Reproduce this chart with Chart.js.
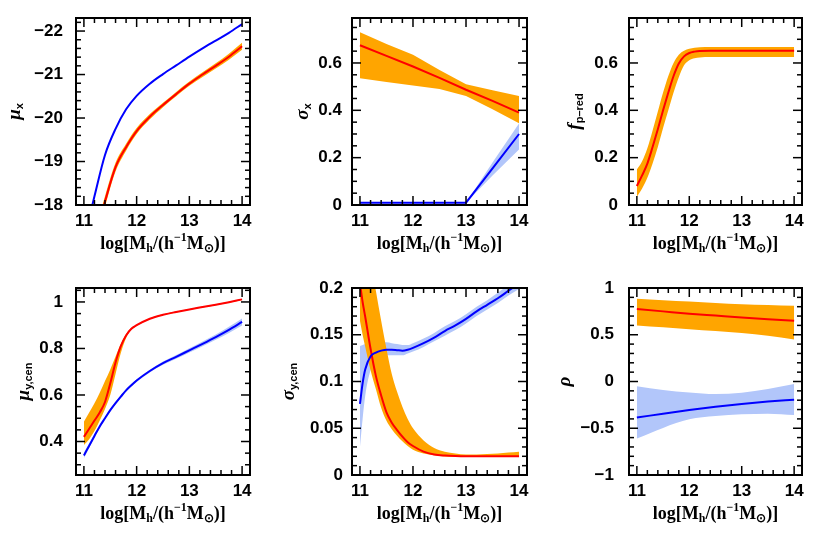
<!DOCTYPE html>
<html>
<head>
<meta charset="utf-8">
<script src="https://cdn.jsdelivr.net/npm/chart.js@4.4.1/dist/chart.umd.min.js"></script>
<style>
html, body { margin: 0; padding: 0; background: #fff; }
#wrap { position: relative; width: 830px; height: 544px; }
.panel { position: absolute; }
</style>
</head>
<body>
<div id="wrap"></div>
<script>
// x axis: log halo mass
const massTicks = [11, 12, 13, 14];

// panel 1: mu_x
const muxMass = [11, 11.2, 11.4, 11.6, 11.8, 12, 12.25, 12.5, 12.75, 13, 13.25, 13.5, 13.75, 14];
const muxBlue = [-17.2, -18.2, -19.15, -19.75, -20.2, -20.51, -20.79, -21.01, -21.21, -21.41, -21.6, -21.78, -21.96, -22.16];
const muxRed = [-16.4, -17.2, -18.08, -18.87, -19.33, -19.7, -20.03, -20.3, -20.55, -20.79, -21.0, -21.2, -21.41, -21.65];
const muxRedLo = [-16.25, -17.06, -17.96, -18.77, -19.25, -19.63, -19.97, -20.25, -20.5, -20.74, -20.945, -21.14, -21.34, -21.57];
const muxRedHi = [-16.55, -17.34, -18.2, -18.97, -19.41, -19.77, -20.09, -20.35, -20.6, -20.84, -21.055, -21.26, -21.48, -21.73];
const muxTicks = [-22, -21, -20, -19, -18];

// panel 2: sigma_x
const sigxMass = [11, 11.5, 12, 12.5, 13, 13.5, 14];
const sigxRed = [0.675, 0.63, 0.585, 0.537, 0.487, 0.44, 0.39];
const sigxRedHi = [0.73, 0.68, 0.635, 0.57, 0.51, 0.485, 0.46];
const sigxRedLo = [0.535, 0.52, 0.505, 0.49, 0.46, 0.405, 0.345];
const sigxBlue = [0.01, 0.01, 0.01, 0.01, 0.01, 0.155, 0.30];
const sigxBlueHi = [0.01, 0.01, 0.01, 0.01, 0.01, 0.18, 0.345];
const sigxBlueLo = [0.01, 0.01, 0.01, 0.01, 0.01, 0.125, 0.235];
const sigxTicks = [0, 0.2, 0.4, 0.6];

// panel 3: f_p-red
const fredMass = [11, 11.1, 11.2, 11.3, 11.4, 11.5, 11.6, 11.7, 11.8, 11.9, 12, 12.1, 12.2, 12.4, 13, 14];
const fredRed = [0.08, 0.125, 0.175, 0.245, 0.32, 0.40, 0.475, 0.545, 0.598, 0.628, 0.642, 0.648, 0.651, 0.652, 0.652, 0.652];
const fredRedHi = [0.15, 0.185, 0.24, 0.315, 0.395, 0.475, 0.545, 0.60, 0.635, 0.652, 0.66, 0.664, 0.666, 0.667, 0.667, 0.667];
const fredRedLo = [0.035, 0.07, 0.115, 0.175, 0.245, 0.325, 0.40, 0.475, 0.54, 0.59, 0.612, 0.62, 0.623, 0.625, 0.625, 0.625];
const fredTicks = [0, 0.2, 0.4, 0.6];

// panel 4: mu_y,cen
const muyMass = [11, 11.1, 11.2, 11.3, 11.4, 11.5, 11.6, 11.7, 11.8, 11.9, 12, 12.25, 12.5, 12.75, 13, 13.25, 13.5, 13.75, 14];
const muyRed = [0.42, 0.455, 0.49, 0.525, 0.57, 0.65, 0.74, 0.81, 0.856, 0.885, 0.90, 0.928, 0.945, 0.957, 0.968, 0.978, 0.988, 0.999, 1.011];
const muyRedHi = [0.485, 0.525, 0.565, 0.61, 0.66, 0.71, 0.765, 0.82, 0.862, 0.888, 0.902, 0.93, 0.947, 0.959, 0.97, 0.98, 0.99, 1.001, 1.013];
const muyRedLo = [0.385, 0.41, 0.445, 0.49, 0.54, 0.60, 0.69, 0.78, 0.845, 0.88, 0.897, 0.926, 0.943, 0.955, 0.966, 0.976, 0.986, 0.997, 1.009];
const muyBlue = [0.34, 0.382, 0.424, 0.465, 0.50, 0.535, 0.565, 0.593, 0.62, 0.642, 0.662, 0.703, 0.737, 0.764, 0.792, 0.82, 0.849, 0.88, 0.914];
const muyBlueHi = [0.352, 0.392, 0.432, 0.472, 0.506, 0.541, 0.571, 0.599, 0.626, 0.648, 0.668, 0.709, 0.744, 0.772, 0.801, 0.83, 0.86, 0.893, 0.929];
const muyBlueLo = [0.328, 0.372, 0.416, 0.458, 0.494, 0.529, 0.559, 0.587, 0.614, 0.636, 0.656, 0.697, 0.73, 0.756, 0.783, 0.81, 0.838, 0.867, 0.899];
const muyTicks = [0.4, 0.6, 0.8, 1];

// panel 5: sigma_y,cen
const sigyMass = [11, 11.05, 11.1, 11.2, 11.3, 11.4, 11.5, 11.6, 11.7, 11.8, 11.9, 12, 12.2, 12.4, 12.6, 12.8, 13, 13.2, 13.4, 13.6, 13.8, 14];
const sigyRed = [0.205, 0.185, 0.169, 0.135, 0.106, 0.085, 0.067, 0.056, 0.048, 0.041, 0.035, 0.031, 0.025, 0.022, 0.0208, 0.0202, 0.020, 0.020, 0.020, 0.020, 0.020, 0.020];
const sigyRedHi = [0.32, 0.295, 0.27, 0.23, 0.197, 0.165, 0.135, 0.108, 0.089, 0.073, 0.060, 0.05, 0.037, 0.029, 0.025, 0.023, 0.022, 0.022, 0.0225, 0.023, 0.024, 0.025];
const sigyRedLo = [0.165, 0.15, 0.137, 0.112, 0.092, 0.072, 0.058, 0.049, 0.042, 0.036, 0.031, 0.027, 0.023, 0.021, 0.0198, 0.0195, 0.0193, 0.0193, 0.0193, 0.0193, 0.0193, 0.0193];
const sigyBlue = [0.076, 0.098, 0.113, 0.127, 0.131, 0.133, 0.134, 0.134, 0.1335, 0.133, 0.134, 0.136, 0.141, 0.147, 0.154, 0.160, 0.167, 0.175, 0.182, 0.189, 0.197, 0.205];
const sigyBlueHi = [0.138, 0.139, 0.14, 0.141, 0.142, 0.142, 0.142, 0.141, 0.14, 0.139, 0.139, 0.141, 0.146, 0.152, 0.159, 0.165, 0.172, 0.18, 0.187, 0.195, 0.203, 0.212];
const sigyBlueLo = [0.03, 0.06, 0.085, 0.112, 0.122, 0.126, 0.128, 0.128, 0.128, 0.128, 0.13, 0.132, 0.137, 0.143, 0.149, 0.155, 0.162, 0.17, 0.177, 0.184, 0.192, 0.199];
const sigyTicks = [0, 0.05, 0.1, 0.15, 0.2];

// panel 6: rho
const rhoMass = [11, 11.5, 12, 12.5, 13, 13.5, 14];
const rhoRed = [0.775, 0.75, 0.725, 0.705, 0.685, 0.667, 0.65];
const rhoRedHi = [0.885, 0.87, 0.856, 0.84, 0.827, 0.818, 0.81];
const rhoRedLo = [0.60, 0.58, 0.56, 0.54, 0.52, 0.49, 0.45];
const rhoBlue = [-0.385, -0.345, -0.305, -0.27, -0.24, -0.215, -0.195];
const rhoBlueHi = [-0.05, -0.09, -0.117, -0.135, -0.12, -0.08, -0.027];
const rhoBlueLo = [-0.61, -0.496, -0.405, -0.37, -0.351, -0.344, -0.358];
const rhoTicks = [-1, -0.5, 0, 0.5, 1];

const RED = 'rgb(255,0,0)', BLUE = 'rgb(0,0,255)';
const ORANGE = 'rgb(255,165,0)', LIGHTBLUE = 'rgb(178,198,250)';

const pts = (xs, ys) => xs.map((x, i) => ({x: x, y: ys[i]}));
const curve = (xs, ys, color, order) => ({
  data: pts(xs, ys), borderColor: color, borderWidth: 2, pointRadius: 0, fill: false, order: order
});
const band = (xs, lo, hi, color, order) => [
  {data: pts(xs, lo), borderColor: 'transparent', borderWidth: 0, pointRadius: 0, fill: false, order: order},
  {data: pts(xs, hi), borderColor: 'transparent', borderWidth: 0, pointRadius: 0, fill: '-1', backgroundColor: color, order: order}
];
const fmt = v => (v < 0 ? '\u2212' + (-v) : '' + v);

// inward ticks on all four sides + frame
const frame = {
  id: 'frame',
  afterDatasetsDraw(chart, args, o) {
    const ctx = chart.ctx, a = chart.chartArea, sx = chart.scales.x, sy = chart.scales.y;
    ctx.save();
    ctx.strokeStyle = '#000';
    const seg = (x1, y1, x2, y2) => { ctx.beginPath(); ctx.moveTo(x1, y1); ctx.lineTo(x2, y2); ctx.stroke(); };
    const steps = (s, step) => {
      const out = [];
      for (let k = Math.ceil(s.min / step - 1e-9); k * step <= s.max + 1e-9; k++) out.push(k * step);
      return out;
    };
    const isMajor = (v, list) => list.some(t => Math.abs(t - v) < 1e-6);
    ctx.lineWidth = 1.5;
    steps(sx, o.xMinor).forEach(v => {
      const p = sx.getPixelForValue(v), len = isMajor(v, o.xMajor) ? 9 : 5;
      seg(p, a.bottom, p, a.bottom - len);
      seg(p, a.top, p, a.top + len);
    });
    steps(sy, o.yMinor).forEach(v => {
      const p = sy.getPixelForValue(v), len = isMajor(v, o.yMajor) ? 9 : 5;
      seg(a.left, p, a.left + len, p);
      seg(a.right, p, a.right - len, p);
    });
    ctx.lineWidth = 2;
    ctx.strokeRect(a.left, a.top, a.right - a.left, a.bottom - a.top);
    ctx.restore();
  }
};

function drawRich(ctx, segs, cx, cy, angle, fonts) {
  let w = 0;
  const ws = segs.map(s => {
    ctx.font = s.s ? fonts.small : fonts.main;
    const m = ctx.measureText(s.t).width;
    w += m;
    return m;
  });
  ctx.save();
  ctx.translate(cx, cy);
  ctx.rotate(angle);
  ctx.fillStyle = '#000';
  ctx.textAlign = 'left';
  ctx.textBaseline = 'middle';
  let x = -w / 2;
  segs.forEach((s, i) => {
    ctx.font = s.s ? fonts.small : fonts.main;
    ctx.fillText(s.t, x, s.s === 'sub' ? 5 : s.s === 'sup' ? -6 : 0);
    x += ws[i];
  });
  ctx.restore();
}

const titles = {
  id: 'titles',
  afterDraw(chart, args, o) {
    const a = chart.chartArea, ctx = chart.ctx;
    drawRich(ctx, o.x, (a.left + a.right) / 2, a.bottom + o.xOff, 0,
      {main: 'bold 18px "Liberation Serif"', small: 'bold 12px "Liberation Serif"'});
    drawRich(ctx, o.y, a.left - o.yOff, (a.top + a.bottom) / 2, -Math.PI / 2,
      {main: 'bold italic 19px "Liberation Serif"', small: 'bold 11px "Liberation Sans"'});
  }
};

const xTitle = [{t: 'log[M'}, {t: 'h', s: 'sub'}, {t: '/(h'}, {t: '\u22121', s: 'sup'}, {t: 'M'}, {t: '\u2299', s: 'sub'}, {t: ')]'}];
const tickFont = {family: 'Liberation Sans', size: 17, weight: 'bold'};

const panels = [
  { cont: [0, 0, 276, 272], plot: [76, 18, 250, 205], yMin: -22.3, yMax: -18, reverse: true,
    yTicks: muxTicks, yMinor: 0.2, lblPad: 13, yOff: 61, smooth: true,
    yTitle: [{t: '\u03bc'}, {t: 'x', s: 'sub'}],
    datasets: [...band(muxMass, muxRedLo, muxRedHi, ORANGE, 3),
      curve(muxMass, muxRed, RED, 1), curve(muxMass, muxBlue, BLUE, 0)] },
  { cont: [276, 0, 277, 272], plot: [352, 18, 527, 205], yMin: 0, yMax: 0.79,
    yTicks: sigxTicks, yMinor: 0.05, lblPad: 10, yOff: 49, smooth: false,
    yTitle: [{t: '\u03c3'}, {t: 'x', s: 'sub'}],
    datasets: [...band(sigxMass, sigxBlueLo, sigxBlueHi, LIGHTBLUE, 5),
      ...band(sigxMass, sigxRedLo, sigxRedHi, ORANGE, 3),
      curve(sigxMass, sigxRed, RED, 1), curve(sigxMass, sigxBlue, BLUE, 0)] },
  { cont: [553, 0, 277, 272], plot: [629, 18, 802, 205], yMin: 0, yMax: 0.79,
    yTicks: fredTicks, yMinor: 0.05, lblPad: 11, yOff: 54, smooth: true,
    yTitle: [{t: 'f'}, {t: 'p\u2013red', s: 'sub'}],
    datasets: [...band(fredMass, fredRedLo, fredRedHi, ORANGE, 3),
      curve(fredMass, fredRed, RED, 1)] },
  { cont: [0, 272, 276, 272], plot: [76, 288, 250, 475], yMin: 0.256, yMax: 1.06,
    yTicks: muyTicks, yMinor: 0.05, lblPad: 13, yOff: 52, smooth: true,
    yTitle: [{t: '\u03bc'}, {t: 'y,cen', s: 'sub'}],
    datasets: [...band(muyMass, muyBlueLo, muyBlueHi, LIGHTBLUE, 5),
      ...band(muyMass, muyRedLo, muyRedHi, ORANGE, 3),
      curve(muyMass, muyRed, RED, 1), curve(muyMass, muyBlue, BLUE, 0)] },
  { cont: [276, 272, 277, 272], plot: [352, 288, 527, 475], yMin: 0, yMax: 0.2,
    yTicks: sigyTicks, yMinor: 0.01, lblPad: 9, yOff: 63, smooth: true,
    yTitle: [{t: '\u03c3'}, {t: 'y,cen', s: 'sub'}],
    datasets: [...band(sigyMass, sigyBlueLo, sigyBlueHi, LIGHTBLUE, 5),
      ...band(sigyMass, sigyRedLo, sigyRedHi, ORANGE, 3),
      curve(sigyMass, sigyRed, RED, 1), curve(sigyMass, sigyBlue, BLUE, 0)] },
  { cont: [553, 272, 277, 272], plot: [629, 288, 802, 475], yMin: -1, yMax: 1,
    yTicks: rhoTicks, yMinor: 0.1, lblPad: 15, yOff: 64, smooth: true,
    yTitle: [{t: '\u03c1'}],
    datasets: [...band(rhoMass, rhoBlueLo, rhoBlueHi, LIGHTBLUE, 5),
      ...band(rhoMass, rhoRedLo, rhoRedHi, ORANGE, 3),
      curve(rhoMass, rhoRed, RED, 1), curve(rhoMass, rhoBlue, BLUE, 0)] }
];

const wrap = document.getElementById('wrap');
panels.forEach(p => {
  const [cl, ct, cw, ch] = p.cont;
  const [pl, pt, pr, pb] = p.plot;
  const div = document.createElement('div');
  div.className = 'panel';
  div.style.left = cl + 'px';
  div.style.top = ct + 'px';
  div.style.width = cw + 'px';
  div.style.height = ch + 'px';
  const cv = document.createElement('canvas');
  div.appendChild(cv);
  wrap.appendChild(div);

  new Chart(cv, {
    type: 'line',
    data: { datasets: p.datasets },
    options: {
      responsive: true,
      maintainAspectRatio: false,
      animation: false,
      events: [],
      layout: { padding: { left: 0, top: pt - ct, right: cl + cw - pr, bottom: 0 } },
      elements: { line: { cubicInterpolationMode: p.smooth ? 'monotone' : 'default', tension: 0 } },
      plugins: {
        legend: { display: false },
        tooltip: { enabled: false },
        frame: { xMajor: massTicks, xMinor: 0.2, yMajor: p.yTicks, yMinor: p.yMinor },
        titles: { x: xTitle, xOff: 39, y: p.yTitle, yOff: p.yOff }
      },
      scales: {
        x: {
          type: 'linear', position: 'bottom', min: 10.85, max: 14.15,
          grid: { display: false, drawTicks: false }, border: { display: false },
          ticks: { autoSkip: false, maxRotation: 0, padding: 6, color: '#000', font: tickFont },
          afterBuildTicks: s => { s.ticks = massTicks.map(v => ({ value: v })); },
          afterFit: s => { s.height = ct + ch - pb; s.paddingLeft = 0; s.paddingRight = 0; }
        },
        y: {
          type: 'linear', min: p.yMin, max: p.yMax, reverse: !!p.reverse,
          grid: { display: false, drawTicks: false }, border: { display: false },
          ticks: { autoSkip: false, padding: p.lblPad, color: '#000', font: tickFont, callback: fmt },
          afterBuildTicks: s => { s.ticks = p.yTicks.map(v => ({ value: v })); },
          afterFit: s => { s.width = pl - cl; s.paddingTop = 0; s.paddingBottom = 0; }
        }
      }
    },
    plugins: [frame, titles]
  });
});
</script>
</body>
</html>
